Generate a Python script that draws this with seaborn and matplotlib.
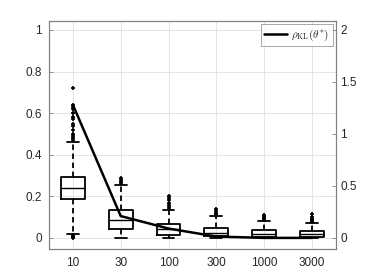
import matplotlib
matplotlib.use("Agg")
import matplotlib.pyplot as plt
import seaborn as sns
import pandas as pd

categories = ["10", "30", "100", "300", "1000", "3000"]
whislo = [0.02, 0.0, 0.0, 0.0, 0.0, 0.0]
q1 = [0.185, 0.045, 0.015, 0.008, 0.005, 0.005]
med = [0.24, 0.088, 0.045, 0.025, 0.02, 0.02]
q3 = [0.295, 0.133, 0.068, 0.05, 0.038, 0.035]
whishi = [0.46, 0.255, 0.135, 0.105, 0.08, 0.072]
fliers = [
    [0.0, 0.005, 0.01, 0.015, 0.47, 0.48, 0.49, 0.50, 0.52, 0.54, 0.55, 0.57, 0.58, 0.60, 0.62, 0.63, 0.64, 0.72],
    [0.265, 0.27, 0.28, 0.29],
    [0.14, 0.15, 0.16, 0.17, 0.18, 0.19, 0.2],
    [0.11, 0.115, 0.12, 0.13, 0.14],
    [0.085, 0.09, 0.095, 0.1, 0.105, 0.11],
    [0.075, 0.08, 0.085, 0.09, 0.1, 0.115],
]
rho_kl = [1.28, 0.21, 0.09, 0.013, 0.0, 0.0]

sns.set_style("whitegrid")
plt.rcParams["font.family"] = ["Liberation Sans", "DejaVu Sans"]
plt.rcParams["mathtext.fontset"] = "cm"

fig = plt.figure(figsize=(3.74, 2.8), dpi=100)
ax = fig.add_axes([0.131, 0.111, 0.767, 0.814])

stats = []
for i, c in enumerate(categories):
    stats.append(dict(label=c, whislo=whislo[i], q1=q1[i], med=med[i], q3=q3[i],
                      whishi=whishi[i], fliers=fliers[i]))
ax.bxp(stats, positions=range(len(categories)), widths=0.5, showfliers=True,
       boxprops=dict(color="black", linewidth=1.3),
       medianprops=dict(color="black", linewidth=1.0),
       whiskerprops=dict(color="black", linewidth=1.3, linestyle=(0, (3, 2))),
       capprops=dict(color="black", linewidth=1.3),
       capwidths=0.25,
       flierprops=dict(marker="+", markeredgecolor="black", markersize=3.5, markeredgewidth=1.2))

ax.set_xlim(-0.5, 5.5)
ax.set_ylim(-0.053, 1.043)
ax.set_yticks([0, 0.2, 0.4, 0.6, 0.8, 1.0])
ax.set_yticklabels(["0", "0.2", "0.4", "0.6", "0.8", "1"])
ax.set_xticks(range(len(categories)))
ax.set_xticklabels(categories)

ax2 = ax.twinx()
df = pd.DataFrame({"x": range(len(categories)), "rho": rho_kl})
sns.lineplot(data=df, x="x", y="rho", ax=ax2, color="black", linewidth=1.8,
             label=r"$\rho_{\mathrm{KL}}(\theta^{*})$")
ax2.set_ylim(-0.106, 2.086)
ax2.set_yticks([0, 0.5, 1, 1.5, 2])
ax2.set_yticklabels(["0", "0.5", "1", "1.5", "2"])
ax2.grid(False)
ax2.set_xlabel("")
ax2.set_ylabel("")
ax.set_xlim(-0.5, 5.5)

for a in (ax, ax2):
    for s in a.spines.values():
        s.set_color("0.5")
        s.set_linewidth(0.8)
    a.tick_params(direction="in", length=3, width=0.6, colors="0.5",
                  labelcolor="#262626", labelsize=8.5)
ax.tick_params(axis="x", pad=6)
ax.tick_params(axis="y", pad=5, right=False)
ax2.tick_params(axis="y", pad=3)
ax.grid(True, color="0.88", linewidth=0.6)
ax.set_axisbelow(True)

leg = ax2.legend(loc="upper right", frameon=True, fancybox=False, fontsize=8,
                 handlelength=2.0, borderpad=0.3, handletextpad=0.4,
                 borderaxespad=0.3)
leg.get_frame().set_edgecolor("0.5")
leg.get_frame().set_linewidth(0.6)

fig.savefig("out.png", dpi=100)
